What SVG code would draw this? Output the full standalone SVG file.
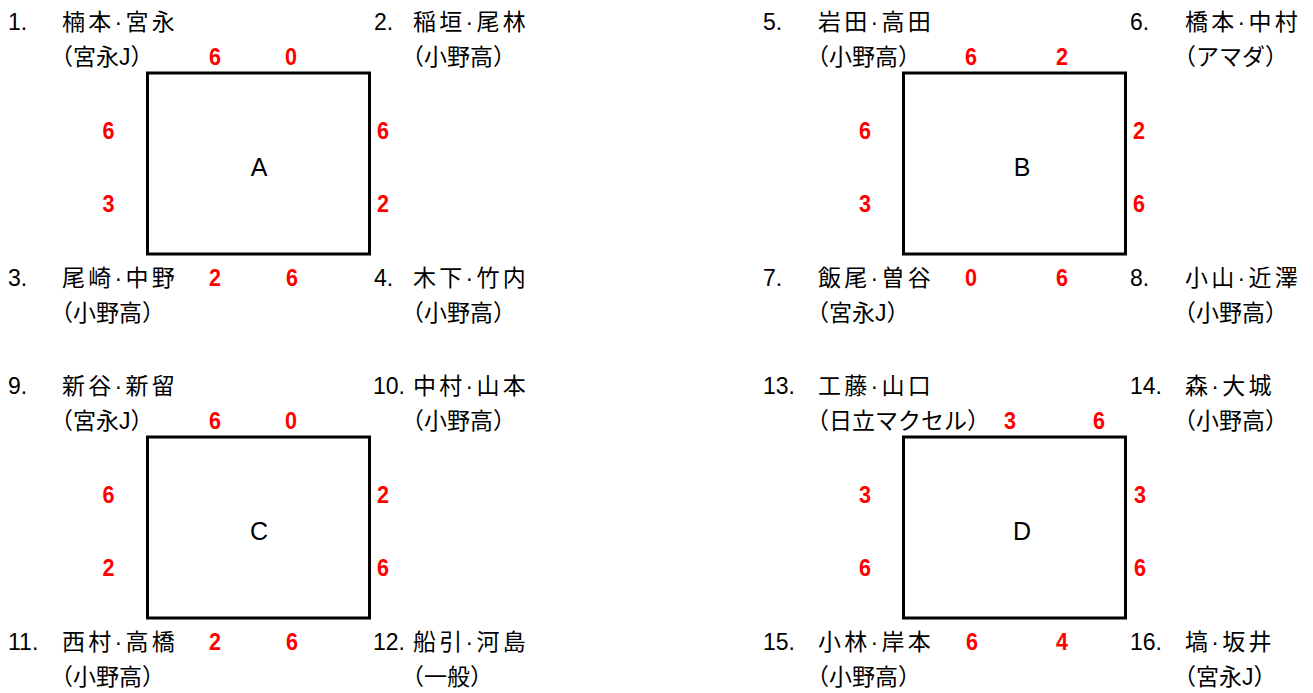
<svg xmlns="http://www.w3.org/2000/svg" width="1313" height="693" viewBox="0 0 1313 693">
<style>
text{font-family:"Liberation Sans","Noto Sans CJK JP",sans-serif;fill:#000}
.no{font-size:23px}
.nm{font-size:23px;letter-spacing:3.3px}
.sub{font-size:23px}
.sc{font-family:"Liberation Sans",sans-serif;font-weight:bold;font-size:24px;fill:#FF0000;text-anchor:middle}
.box{fill:none;stroke:#000;stroke-width:3}
.lbl{font-size:25px;text-anchor:middle}
</style>
<defs>
<rect id="court" class="box" x="147.5" y="73" width="222" height="181"/>
</defs>
<g id="connectors"/>
<g id="block-A">
<use href="#court"/>
<text class="lbl" x="259" y="176">A</text>
<g id="p1"><text class="no" x="8" y="30">1.</text><text class="nm" x="62" y="30">楠本·宮永</text><text class="sub" x="50" y="65">（宮永J）</text></g>
<g id="p2"><text class="no" x="374" y="30">2.</text><text class="nm" x="413" y="30">稲垣·尾林</text><text class="sub" x="401" y="65">（小野高）</text></g>
<g id="p3"><text class="no" x="8" y="286">3.</text><text class="nm" x="62" y="286">尾崎·中野</text><text class="sub" x="50" y="321">（小野高）</text></g>
<g id="p4"><text class="no" x="374" y="286">4.</text><text class="nm" x="413" y="286">木下·竹内</text><text class="sub" x="401" y="321">（小野高）</text></g>
<text class="sc" x="215" y="65" textLength="12" lengthAdjust="spacingAndGlyphs">6</text><text class="sc" x="291" y="65" textLength="12" lengthAdjust="spacingAndGlyphs">0</text>
<text class="sc" x="108.5" y="139" textLength="12" lengthAdjust="spacingAndGlyphs">6</text><text class="sc" x="108.5" y="212" textLength="12" lengthAdjust="spacingAndGlyphs">3</text>
<text class="sc" x="383" y="139" textLength="12" lengthAdjust="spacingAndGlyphs">6</text><text class="sc" x="383" y="212" textLength="12" lengthAdjust="spacingAndGlyphs">2</text>
<text class="sc" x="215" y="286" textLength="12" lengthAdjust="spacingAndGlyphs">2</text><text class="sc" x="292" y="286" textLength="12" lengthAdjust="spacingAndGlyphs">6</text>
</g>
<g id="block-B" transform="translate(756,0)">
<use href="#court"/>
<text class="lbl" x="266" y="176">B</text>
<g id="p5"><text class="no" x="7" y="30">5.</text><text class="nm" x="62" y="30">岩田·高田</text><text class="sub" x="50" y="65">（小野高）</text></g>
<g id="p6"><text class="no" x="374" y="30">6.</text><text class="nm" x="429" y="30">橋本·中村</text><text class="sub" x="417" y="65">（アマダ）</text></g>
<g id="p7"><text class="no" x="7" y="286">7.</text><text class="nm" x="62" y="286">飯尾·曽谷</text><text class="sub" x="50" y="321">（宮永J）</text></g>
<g id="p8"><text class="no" x="374" y="286">8.</text><text class="nm" x="429" y="286">小山·近澤</text><text class="sub" x="417" y="321">（小野高）</text></g>
<text class="sc" x="215" y="65" textLength="12" lengthAdjust="spacingAndGlyphs">6</text><text class="sc" x="306" y="65" textLength="12" lengthAdjust="spacingAndGlyphs">2</text>
<text class="sc" x="109" y="139" textLength="12" lengthAdjust="spacingAndGlyphs">6</text><text class="sc" x="109" y="212" textLength="12" lengthAdjust="spacingAndGlyphs">3</text>
<text class="sc" x="383" y="139" textLength="12" lengthAdjust="spacingAndGlyphs">2</text><text class="sc" x="383" y="212" textLength="12" lengthAdjust="spacingAndGlyphs">6</text>
<text class="sc" x="215" y="286" textLength="12" lengthAdjust="spacingAndGlyphs">0</text><text class="sc" x="306" y="286" textLength="12" lengthAdjust="spacingAndGlyphs">6</text>
</g>
<g id="block-C" transform="translate(0,364)">
<use href="#court"/>
<text class="lbl" x="259" y="176">C</text>
<g id="p9"><text class="no" x="8" y="30">9.</text><text class="nm" x="62" y="30">新谷·新留</text><text class="sub" x="50" y="65">（宮永J）</text></g>
<g id="p10"><text class="no" x="373" y="30">10.</text><text class="nm" x="413" y="30">中村·山本</text><text class="sub" x="401" y="65">（小野高）</text></g>
<g id="p11"><text class="no" x="8" y="286">11.</text><text class="nm" x="62" y="286">西村·高橋</text><text class="sub" x="50" y="321">（小野高）</text></g>
<g id="p12"><text class="no" x="373" y="286">12.</text><text class="nm" x="413" y="286">船引·河島</text><text class="sub" x="401" y="321">（一般）</text></g>
<text class="sc" x="215" y="65" textLength="12" lengthAdjust="spacingAndGlyphs">6</text><text class="sc" x="291" y="65" textLength="12" lengthAdjust="spacingAndGlyphs">0</text>
<text class="sc" x="108.5" y="139" textLength="12" lengthAdjust="spacingAndGlyphs">6</text><text class="sc" x="108.5" y="212" textLength="12" lengthAdjust="spacingAndGlyphs">2</text>
<text class="sc" x="383" y="139" textLength="12" lengthAdjust="spacingAndGlyphs">2</text><text class="sc" x="383" y="212" textLength="12" lengthAdjust="spacingAndGlyphs">6</text>
<text class="sc" x="215" y="286" textLength="12" lengthAdjust="spacingAndGlyphs">2</text><text class="sc" x="292" y="286" textLength="12" lengthAdjust="spacingAndGlyphs">6</text>
</g>
<g id="block-D" transform="translate(756,364)">
<use href="#court"/>
<text class="lbl" x="266" y="176">D</text>
<g id="p13"><text class="no" x="7" y="30">13.</text><text class="nm" x="62" y="30">工藤·山口</text><text class="sub" x="50" y="65">（日立マクセル）</text></g>
<g id="p14"><text class="no" x="374" y="30">14.</text><text class="nm" x="429" y="30">森·大城</text><text class="sub" x="417" y="65">（小野高）</text></g>
<g id="p15"><text class="no" x="7" y="286">15.</text><text class="nm" x="62" y="286">小林·岸本</text><text class="sub" x="50" y="321">（小野高）</text></g>
<g id="p16"><text class="no" x="374" y="286">16.</text><text class="nm" x="429" y="286">塙·坂井</text><text class="sub" x="417" y="321">（宮永J）</text></g>
<text class="sc" x="254" y="65" textLength="12" lengthAdjust="spacingAndGlyphs">3</text><text class="sc" x="343" y="65" textLength="12" lengthAdjust="spacingAndGlyphs">6</text>
<text class="sc" x="109" y="139" textLength="12" lengthAdjust="spacingAndGlyphs">3</text><text class="sc" x="109" y="212" textLength="12" lengthAdjust="spacingAndGlyphs">6</text>
<text class="sc" x="384" y="139" textLength="12" lengthAdjust="spacingAndGlyphs">3</text><text class="sc" x="384" y="212" textLength="12" lengthAdjust="spacingAndGlyphs">6</text>
<text class="sc" x="216" y="286" textLength="12" lengthAdjust="spacingAndGlyphs">6</text><text class="sc" x="306" y="286" textLength="12" lengthAdjust="spacingAndGlyphs">4</text>
</g>
</svg>
